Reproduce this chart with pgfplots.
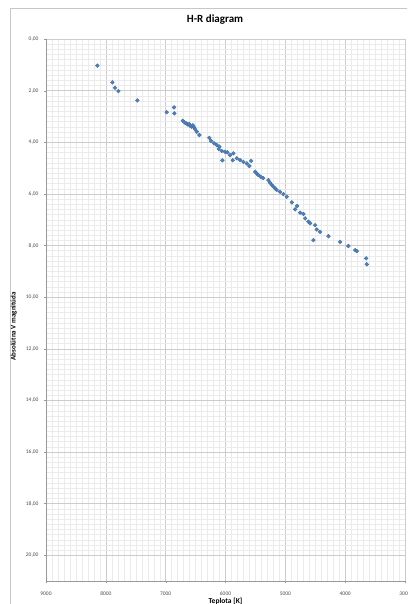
\documentclass[border=0pt]{standalone}
\usepackage{pgfplots}
\pgfplotsset{compat=1.18}
\usepackage{fontspec}
\setmainfont{Carlito}
\definecolor{exblue}{HTML}{4F81BD}
\definecolor{exblueD}{HTML}{3C6A9E}
\begin{document}
\begin{tikzpicture}
\path[use as bounding box] (0pt,0pt) rectangle (407pt,604pt);
\clip (0pt,0pt) rectangle (407pt,604pt);
\draw[black!22, line width=0.6pt] (10pt,-5pt) rectangle (420pt,596pt);
\begin{axis}[
  at={(225.5pt,294pt)}, anchor=center,
  scale only axis, width=359pt, height=542pt,
  x dir=reverse, y dir=reverse,
  xmin=3000, xmax=9000, ymin=0, ymax=21,
  xtick={3000,4000,...,9000}, ytick={0,2,...,20},
  minor x tick num=9, minor y tick num=9,
  grid=both,
  major grid style={black!20, line width=0.4pt},
  minor grid style={black!8, line width=0.3pt},
  axis line style={black!40},
  separate axis lines,
  axis x line*=bottom, axis y line*=left,
  tick style={black!40},
  major tick length=2pt, minor tick length=0pt,
  tick align=outside,
  /pgf/number format/assume math mode=true,
  xticklabel style={font=\fontsize{5.5}{6}\selectfont, text=black!70, /pgf/number format/.cd, 1000 sep={}},
  yticklabel style={font=\fontsize{5.5}{6}\selectfont, text=black!70, /pgf/number format/.cd, use comma, fixed, fixed zerofill, precision=2},
  xticklabel shift=5pt, yticklabel shift=2pt,
  xlabel={Teplota [K]}, ylabel={Absolútna V magnitúda},
  xlabel style={font=\bfseries\fontsize{7.5}{8}\selectfont, at={(axis description cs:0.5,-0.037)}, anchor=center},
  ylabel style={font=\bfseries\fontsize{7}{8}\selectfont, at={(axis description cs:-0.09,0.47)}, anchor=center, rotate=0},
]
\addplot[only marks, mark=*, mark size=1.95pt, mark options={fill=exblue, draw=exblueD, line width=0.3pt}] coordinates {
(8142,1.03) (7891,1.68) (7846,1.89) (7791,2.02) (7473,2.38)
(6982,2.84) (6860,2.65) (6855,2.88)
(6714,3.17) (6688,3.23) (6659,3.27) (6637,3.31) (6609,3.29) (6592,3.36)
(6564,3.40) (6547,3.34) (6525,3.42) (6509,3.50) (6480,3.59) (6437,3.72)
(6270,3.83) (6241,3.95) (6191,4.04) (6146,4.11) (6103,4.17) (6113,4.26)
(6063,4.34) (6007,4.37) (5969,4.39) (5924,4.50) (5869,4.43) (5812,4.62)
(5756,4.69) (5701,4.76) (5644,4.82) (5572,4.72) (5601,4.92)
(6052,4.70) (5879,4.70)
(5506,5.14) (5477,5.21) (5451,5.27) (5410,5.34) (5372,5.39) (5283,5.47)
(5255,5.57) (5226,5.66) (5199,5.72) (5171,5.79) (5143,5.85) (5088,5.92)
(5032,6.01) (4976,6.11) (4892,6.33) (4837,6.60) (4803,6.47) (4753,6.73)
(4698,6.78) (4670,6.95) (4614,7.08) (4586,7.14) (4531,7.79) (4502,7.21)
(4474,7.38) (4419,7.47) (4280,7.64) (4084,7.86) (3946,8.02) (3834,8.18)
(3805,8.22) (3650,8.50) (3638,8.73)
};
\end{axis}
\node[font=\bfseries\fontsize{11}{12}\selectfont] at (215pt,584pt) {H-R diagram};
\end{tikzpicture}
\end{document}
